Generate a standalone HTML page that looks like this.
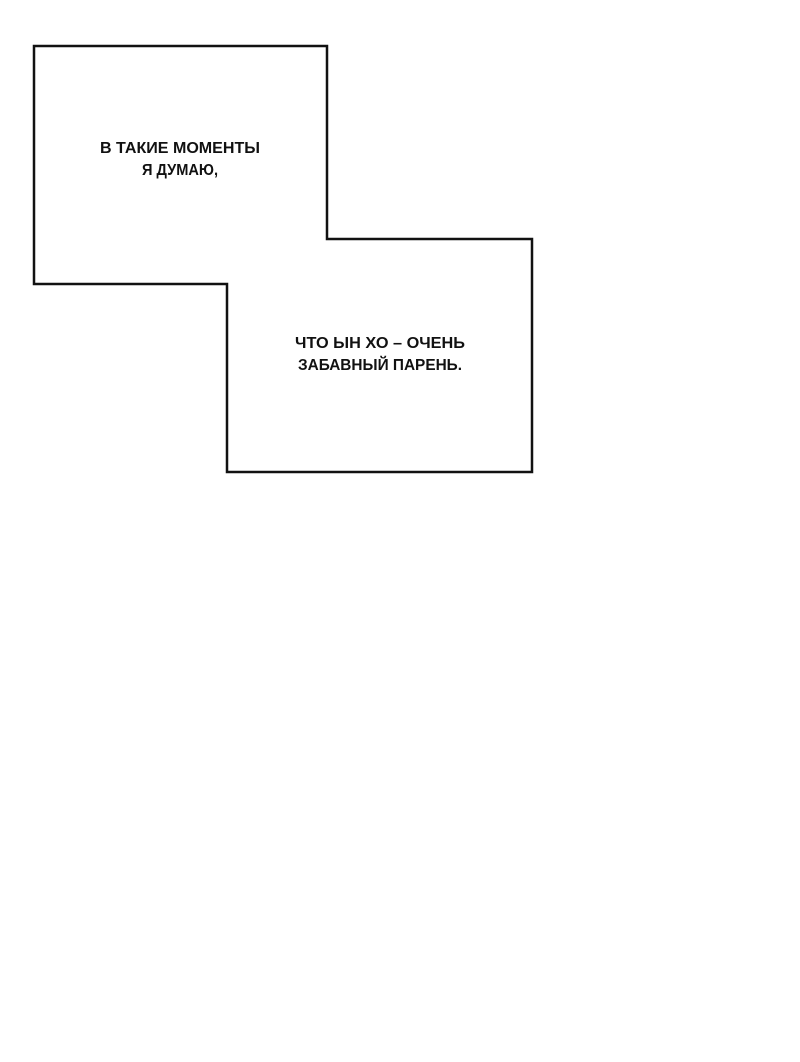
<!DOCTYPE html>
<html><head><meta charset="utf-8"><style>
html,body{margin:0;padding:0;background:#fff;width:800px;height:1062px;overflow:hidden}
svg{display:block}
text{font-family:"Liberation Sans Narrow","Liberation Sans",sans-serif;font-weight:bold;font-size:16px;fill:#111;text-anchor:middle}
</style></head><body>
<svg width="800" height="1062" viewBox="0 0 800 1062" xmlns="http://www.w3.org/2000/svg">
<rect width="800" height="1062" fill="#fff"/>
<polygon points="34,46 327,46 327,239 532,239 532,472 227,472 227,284 34,284" fill="#fff" stroke="#111" stroke-width="2.5"/>
<text x="180" y="153" textLength="160" lengthAdjust="spacingAndGlyphs">В ТАКИЕ МОМЕНТЫ</text>
<text x="180" y="175" textLength="76" lengthAdjust="spacingAndGlyphs">Я ДУМАЮ,</text>
<text x="380" y="348" textLength="170" lengthAdjust="spacingAndGlyphs">ЧТО ЫН ХО – ОЧЕНЬ</text>
<text x="380" y="370" textLength="164" lengthAdjust="spacingAndGlyphs">ЗАБАВНЫЙ ПАРЕНЬ.</text>
</svg>
</body></html>
